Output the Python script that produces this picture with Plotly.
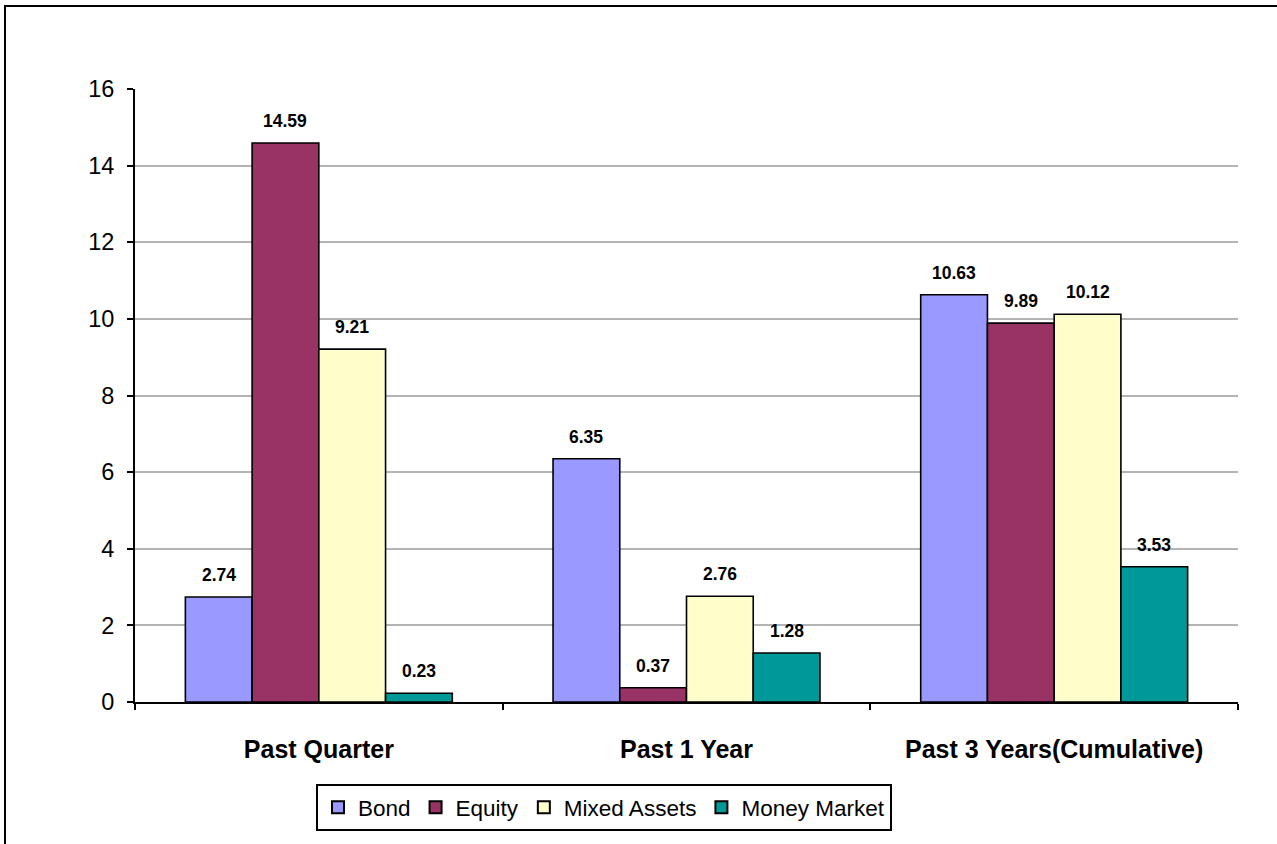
import plotly.graph_objects as go

categories = ["Past Quarter", "Past 1 Year", "Past 3 Years(Cumulative)"]
series_names = ["Bond", "Equity", "Mixed Assets", "Money Market"]
bond = [2.74, 6.35, 10.63]
equity = [14.59, 0.37, 9.89]
mixed = [9.21, 2.76, 10.12]
money = [0.23, 1.28, 3.53]
colors = ["#9999FF", "#993366", "#FFFFCC", "#009999"]
y_ticks = [0, 2, 4, 6, 8, 10, 12, 14, 16]

series = [bond, equity, mixed, money]
BARGAP = 0.274
FONT = "Arial, Liberation Sans, sans-serif"

W, H = 1277, 844
L, R, T, B = 135, 39, 89, 142
pw, ph = W - L - R, H - T - B

fig = go.Figure()
for name, vals, col in zip(series_names, series, colors):
    fig.add_trace(go.Bar(
        name=name, x=categories, y=vals,
        marker=dict(color=col, line=dict(color="black", width=1.6)),
    ))

# data labels above bars
n = len(series)
w = (1 - BARGAP) / n
for j, vals in enumerate(series):
    for i, v in enumerate(vals):
        fig.add_annotation(
            x=i + (j - (n - 1) / 2) * w, y=v, xref="x", yref="y",
            text=f"<b>{v:.2f}</b>", showarrow=False, yshift=22,
            font=dict(family=FONT, size=17.5, color="black"),
        )

def px_x(p):
    return (p - L) / pw

def px_y(p):
    return (H - B - p) / ph

# outer frame
fig.add_shape(type="rect", xref="paper", yref="paper",
              x0=px_x(5), x1=px_x(1300), y0=px_y(870), y1=px_y(6),
              line=dict(color="black", width=2), fillcolor="rgba(0,0,0,0)")

fig.update_layout(
    width=W, height=H,
    margin=dict(l=L, r=R, t=T, b=B),
    paper_bgcolor="white", plot_bgcolor="white",
    barmode="group", bargap=BARGAP, bargroupgap=0,
    font=dict(family=FONT, color="black"),
    showlegend=True,
    legend=dict(
        orientation="h", x=px_x(604), xanchor="center", y=px_y(784), yanchor="top",
        bordercolor="black", borderwidth=2, bgcolor="white",
        font=dict(size=22.5, family=FONT, color="black"),
        itemsizing="constant", tracegroupgap=0, itemwidth=30,
    ),
    xaxis=dict(
        type="category", showline=True, linecolor="black", linewidth=2,
        ticks="outside", tickson="boundaries", ticklen=6, tickwidth=2, tickcolor="black",
        tickfont=dict(size=25, family=FONT, color="black"),
        ticklabelstandoff=24, showgrid=False, zeroline=False,
    ),
    yaxis=dict(
        range=[0, 16], tickvals=y_ticks, showline=True, linecolor="black", linewidth=2,
        ticks="outside", ticklen=6, tickwidth=2, tickcolor="black",
        tickfont=dict(size=23.5, family=FONT, color="black"),
        ticklabelstandoff=8,
        showgrid=True, gridcolor="#b4b4b4", gridwidth=1.5, zeroline=False,
    ),
)
fig.update_xaxes(tickvals=categories, ticktext=[f"<b>{c}</b>" for c in categories])

fig.write_html("out.html")
